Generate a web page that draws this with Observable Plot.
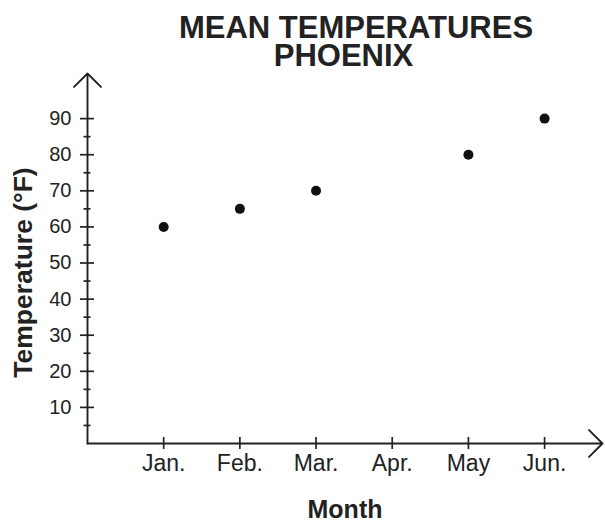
<!DOCTYPE html>
<html><head><meta charset="utf-8">
<script src="https://cdn.jsdelivr.net/npm/d3@7"></script>
<script src="https://cdn.jsdelivr.net/npm/@observablehq/plot@0.6"></script>
<style>body{margin:0;background:#fff}</style>
</head><body><div id="chart"></div>
<script>
const titleLines = ["MEAN TEMPERATURES", "PHOENIX"];
const months = ["Jan.", "Feb.", "Mar.", "Apr.", "May", "Jun."];
const temps = [60, 65, 70, null, 80, 90];
const yMajor = [10, 20, 30, 40, 50, 60, 70, 80, 90];
const yMinor = [5, 15, 25, 35, 45, 55, 65, 75, 85];
const xLabel = "Month";
const yLabel = "Temperature (°F)";

const data = months.map((m, i) => ({pos: i + 1, month: m, temp: temps[i]})).filter(d => d.temp != null);
const monthPos = months.map((m, i) => i + 1);
const ink = "#222";
const font = "'Liberation Sans', Arial, sans-serif";

const chart = Plot.plot({
  width: 605, height: 521,
  marginLeft: 87, marginRight: 3, marginTop: 73, marginBottom: 78,
  style: {fontFamily: font, background: "#fff"},
  x: {domain: [0, 6.76], axis: null},
  y: {domain: [0, 102.5], axis: null},
  marks: [
    Plot.arrow([0], {x1: 0, y1: 0, x2: 6.76, y2: 0, stroke: ink, strokeWidth: 1.9, headLength: 15, headAngle: 90}),
    Plot.arrow([0], {x1: 0, y1: 0, x2: 0, y2: 102.5, stroke: ink, strokeWidth: 1.9, headLength: 15, headAngle: 90}),
    Plot.ruleY(yMajor, {y: d => d, x1: 0, x2: 0, insetLeft: -7, insetRight: -7, stroke: ink, strokeWidth: 1.7}),
    Plot.ruleY(yMinor, {y: d => d, x1: 0, x2: 0, insetLeft: -3.5, insetRight: -3.5, stroke: ink, strokeWidth: 1.7}),
    Plot.ruleX(monthPos, {x: d => d, y1: 0, y2: 0, insetTop: -6, insetBottom: -6, stroke: ink, strokeWidth: 1.7}),
    Plot.text(yMajor, {x: 0, y: d => d, text: d => String(d), dx: -16, textAnchor: "end", fontSize: 20, fill: ink}),
    Plot.text(months, {x: (d, i) => i + 1, y: 0, text: d => d, dy: 20, fontSize: 23, fill: ink}),
    Plot.dot(data, {x: "pos", y: "temp", r: 5, fill: "#111"}),
    Plot.text([xLabel], {frameAnchor: "bottom", dy: 74, fontSize: 25, fontWeight: "bold", fill: ink}),
    Plot.text([yLabel], {frameAnchor: "left", textAnchor: "middle", lineAnchor: "middle", dx: -64, dy: 14, rotate: -90, fontSize: 26.5, fontWeight: "bold", fill: ink}),
    Plot.text([titleLines[0]], {frameAnchor: "top", dx: 11, dy: -58, fontSize: 31, fontWeight: "bold", fill: ink}),
    Plot.text([titleLines[1]], {frameAnchor: "top", dx: -1.5, dy: -29.5, fontSize: 31, fontWeight: "bold", fill: ink})
  ]
});
document.getElementById("chart").appendChild(chart);
</script>
</body></html>
